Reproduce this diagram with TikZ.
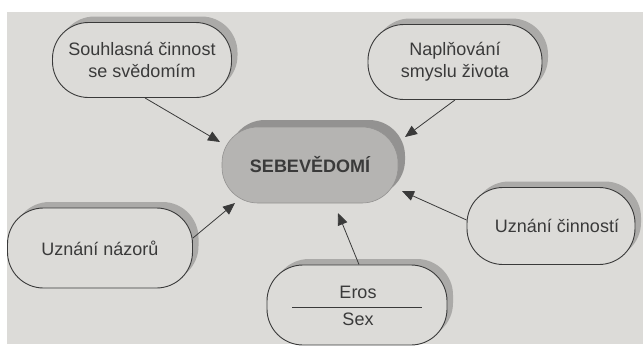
\documentclass[tikz,border=0pt]{standalone}
\usepackage{fontspec}
\setmainfont{Liberation Sans}
\usetikzlibrary{arrows.meta,shadows}
\definecolor{paper}{HTML}{DCDBD8}
\definecolor{ink}{HTML}{3A3A3A}
\definecolor{shade}{HTML}{ABAAA8}
\definecolor{core}{HTML}{B5B4B2}
\definecolor{coreshade}{HTML}{939291}
\begin{document}
\begin{tikzpicture}[x=1pt,y=-1pt,
  bubble/.style={draw=ink, line width=0.9pt, fill=paper, rounded corners=36pt,
    align=center, text=ink, font=\fontsize{18}{22}\selectfont, inner sep=0pt,
    drop shadow={shadow xshift=6pt, shadow yshift=6pt, fill=shade, opacity=1}},
  corebox/.style={draw=coreshade, line width=0.6pt, fill=core, rounded corners=36pt,
    text=ink, font=\bfseries\fontsize{18}{22}\selectfont, inner sep=0pt,
    drop shadow={shadow xshift=7pt, shadow yshift=7pt, fill=coreshade, opacity=1}},
  lbl/.style={text=ink, font=\fontsize{18}{22}\selectfont, anchor=base, inner sep=0pt},
  arr/.style={draw=ink, line width=0.8pt, -{Triangle[length=12pt,width=10pt]}}]
\useasboundingbox (0,0) rectangle (643,349);
\fill[white] (0,0) rectangle (643,349);
\fill[paper] (7,12) rectangle (643,344);

\node[corebox, minimum width=176pt, minimum height=76pt] (c) at (310,165) {SEBEVĚDOMÍ};

\node[bubble, minimum width=179pt, minimum height=75pt] (n1) at (142,60) {Souhlasná činnost\\se svědomím};
\node[bubble, minimum width=174pt, minimum height=75pt] (n2) at (455,62) {Naplňování\\smyslu života};
\node[bubble, minimum width=185pt, minimum height=80pt] (n4) at (100,248) {Uznání názorů};
\node[bubble, minimum width=168pt, minimum height=77pt] (n5) at (551,226) {\hspace*{12pt}Uznání činností};
\node[bubble, minimum width=180pt, minimum height=80pt] (n6) at (357,305) {};
\node[lbl] (eros) at (358,298) {Eros};
\node[lbl] (sex) at (358,325) {Sex};
\draw[ink, line width=0.8pt] ([shift={(-65pt,-2pt)}]n6.center) -- ([shift={(65pt,-2pt)}]n6.center);

\coordinate (t1) at (220,142);
\coordinate (t2) at (405,137);
\coordinate (t4) at (235,203);
\coordinate (t5) at (402,191);
\coordinate (t6) at (338,213);

\draw[arr] ([xshift=3pt]n1.south) -- (t1);
\draw[arr] (n2.south) -- (t2);
\draw[arr] ([yshift=10pt]n4.east) -- (t4);
\draw[arr] ([yshift=6pt]n5.west) -- (t5);
\draw[arr] ([xshift=2pt]n6.north) -- (t6);
\end{tikzpicture}
\end{document}
